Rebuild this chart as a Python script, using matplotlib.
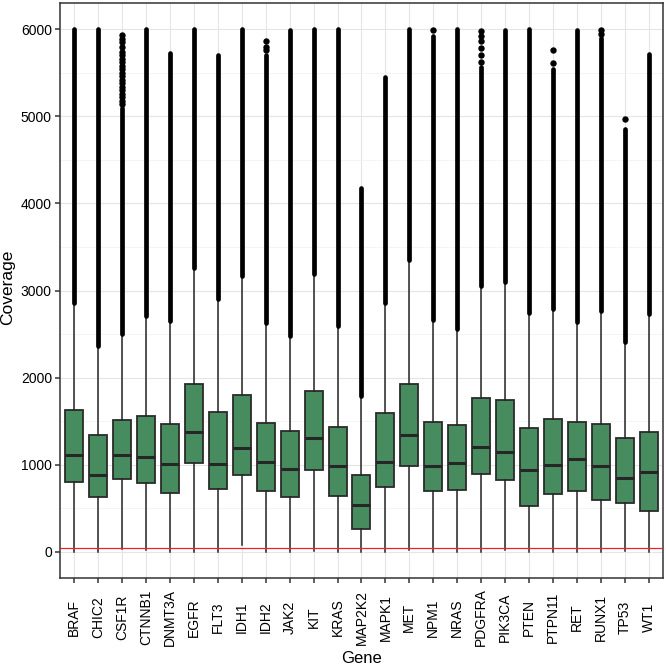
import matplotlib
matplotlib.use("Agg")
import matplotlib.pyplot as plt
from matplotlib.ticker import MultipleLocator

plt.rcParams["font.family"] = ["Liberation Sans", "DejaVu Sans"]

# box statistics per gene
genes = ["BRAF", "CHIC2", "CSF1R", "CTNNB1", "DNMT3A", "EGFR", "FLT3", "IDH1", "IDH2",
         "JAK2", "KIT", "KRAS", "MAP2K2", "MAPK1", "MET", "NPM1", "NRAS", "PDGFRA",
         "PIK3CA", "PTEN", "PTPN11", "RET", "RUNX1", "TP53", "WT1"]
q1 = [800, 629, 838, 789, 671, 1025, 728, 880, 697, 636, 937, 640, 259, 743, 983,
      694, 712, 895, 827, 529, 667, 705, 594, 564, 469]
med = [1109, 884, 1112, 1089, 1009, 1379, 1014, 1196, 1036, 949, 1303, 991, 537, 1036, 1345,
       987, 1017, 1208, 1151, 937, 998, 1071, 983, 854, 922]
q3 = [1634, 1337, 1520, 1558, 1474, 1928, 1608, 1798, 1478, 1387, 1848, 1433, 888, 1589, 1932,
      1490, 1459, 1768, 1745, 1421, 1524, 1490, 1471, 1303, 1375]
whis_lo = [0, 0, 30, 20, 0, 0, 0, 80, 0, 0, 10, 0, 0, 0, 20,
           0, 0, 0, 20, 0, 0, 0, 0, 10, 0]
# dense outlier columns: where they start and where they stop
out_lo = [2857, 2366, 2507, 2712, 2655, 3254, 2903, 3170, 2632, 2484, 3189, 2594, 1786, 2854, 3349,
          2663, 2557, 3052, 3101, 2747, 2793, 2644, 2766, 2408, 2732]
out_hi = [6000, 6000, 5100, 6000, 5730, 6000, 5700, 6000, 5700, 5985, 6000, 6000, 4175, 5451, 6000,
          5920, 6000, 5560, 5990, 6000, 5543, 5990, 5900, 4857, 5711]
# sparse single outliers above the dense columns
sparse = {
    "CSF1R": [5140, 5180, 5220, 5260, 5300, 5340, 5380, 5420, 5460, 5500, 5540, 5580,
              5620, 5660, 5700, 5740, 5790, 5850, 5890, 5930],
    "IDH2": [5760, 5800, 5863],
    "NPM1": [5993],
    "PDGFRA": [5620, 5700, 5780, 5860, 5920, 5980],
    "PTPN11": [5616, 5764],
    "RUNX1": [5940, 5990],
    "TP53": [4964],
}

fig = plt.figure(figsize=(6.66, 6.66), dpi=100)
ax = fig.add_axes([0.090, 0.132, 0.9055, 0.8635])

pos = list(range(1, len(genes) + 1))
stats = []
for i, g in enumerate(genes):
    stats.append({"label": g, "q1": q1[i], "med": med[i], "q3": q3[i],
                  "whislo": whis_lo[i], "whishi": out_lo[i], "fliers": []})

ax.bxp(stats, positions=pos, widths=0.75, patch_artist=True, showcaps=False,
       boxprops=dict(facecolor="#478C5F", edgecolor="#2b2b2b", linewidth=1.3),
       medianprops=dict(color="#262626", linewidth=2.2),
       whiskerprops=dict(color="#262626", linewidth=1.1), zorder=3)

ax.vlines(pos, out_lo, out_hi, color="black", linewidth=3.4, capstyle="round", zorder=4)
for i, g in enumerate(genes):
    if g in sparse:
        ax.plot([pos[i]] * len(sparse[g]), sparse[g], "o", color="black", ms=4.6,
                mew=0, zorder=4)

ax.axhline(50, color="#e8252a", linewidth=0.9, zorder=5)

ax.set_xlim(0.4, len(genes) + 0.6)
ax.set_ylim(-300, 6300)
ax.set_xticks(pos)
ax.set_xticklabels(genes, rotation=90, fontsize=10)
for lab in ax.get_xticklabels():
    lab.set_verticalalignment("center")
ax.yaxis.set_major_locator(MultipleLocator(1000))
ax.yaxis.set_minor_locator(MultipleLocator(500))
ax.tick_params(axis="y", labelsize=10, pad=2)
ax.tick_params(axis="x", pad=24.5)
ax.tick_params(which="major", length=3.8, width=1.1, color="#333333")
ax.tick_params(which="minor", length=0)

ax.grid(which="major", color="#E5E5E5", linewidth=0.8)
ax.grid(which="minor", axis="y", color="#F2F2F2", linewidth=0.6)
ax.set_axisbelow(True)
for s in ax.spines.values():
    s.set_color("#333333")
    s.set_linewidth(1.1)

ax.set_xlabel("Gene", fontsize=12, va="baseline")
ax.xaxis.set_label_coords(0.5, -0.1478)
ax.set_ylabel("Coverage", fontsize=12.5, va="center")
ax.yaxis.set_label_coords(-0.087, 0.505)

fig.savefig("out.png", dpi=100)
